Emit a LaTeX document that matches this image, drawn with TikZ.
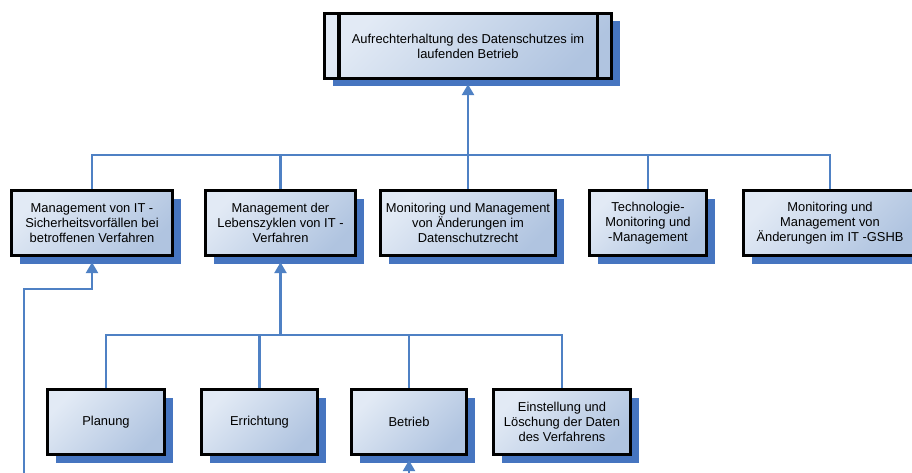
\documentclass[tikz,border=0pt]{standalone}
\usepackage{fontspec}
\setmainfont{Liberation Sans}
\usetikzlibrary{positioning,shadows,arrows.meta}
\definecolor{lineblue}{HTML}{4F81C4}
\definecolor{shadowblue}{HTML}{4675C0}
\definecolor{boxlight}{HTML}{E2EAF5}
\definecolor{boxdark}{HTML}{B0C4E0}
\tikzstyle{block} = [draw=black, line width=3.4pt, rectangle, minimum height=65pt, align=center, top color=boxlight, bottom color=boxdark, shading angle=45, drop shadow={shadow xshift=8pt, shadow yshift=-8pt, fill=shadowblue, opacity=1}, font=\fontsize{12.9}{14.8}\selectfont, inner sep=1pt]
\tikzstyle{line} = [draw=lineblue, line width=2.6pt]
\tikzstyle{input} = [coordinate]
\begin{document}
\begin{tikzpicture}[x=1pt, y=1pt, >={Triangle[width=12pt,length=11pt]}]
\useasboundingbox (0,0) rectangle (912,-473);

\node [block, minimum width=287pt] (top) at (468,-46) {Aufrechterhaltung des Datenschutzes im\\laufenden Betrieb};
\draw [line width=3.4pt, shorten <=1.7pt, shorten >=1.7pt] ([xshift=16pt]top.north west) -- ([xshift=16pt]top.south west);
\draw [line width=3.4pt, shorten <=1.7pt, shorten >=1.7pt] ([xshift=-16pt]top.north east) -- ([xshift=-16pt]top.south east);

\node [block, below of=top, node distance=177pt, minimum width=175pt] (monrecht) {Monitoring und Management\\von Änderungen im\\Datenschutzrecht};
\node [block, left of=monrecht, node distance=187.5pt, minimum width=150pt] (lebenszyklen) {Management der\\Lebenszyklen von IT -\\Verfahren};
\node [block, left of=lebenszyklen, node distance=188.5pt, minimum width=161pt] (vorfaelle) {Management von IT -\\Sicherheitsvorfällen bei\\betroffenen Verfahren};
\node [block, right of=monrecht, node distance=180pt, minimum width=117pt] (technologie) {Technologie-\\Monitoring und\\-Management};
\node [block, right of=technologie, node distance=182pt, minimum width=173pt] (gshb) {Monitoring und\\Management von\\Änderungen im IT -GSHB};

\node [block, below of=lebenszyklen, xshift=-21pt, node distance=199pt, minimum width=116pt] (errichtung) {Errichtung};
\node [block, left of=errichtung, node distance=153.5pt, minimum width=117pt] (planung) {Planung};
\node [block, right of=errichtung, node distance=149.5pt, minimum width=115pt] (betrieb) {Betrieb};
\node [block, right of=betrieb, node distance=153pt, minimum width=137pt] (einstellung) {Einstellung und\\Löschung der Daten\\des Verfahrens};

\node [input, above of=monrecht, node distance=68pt] (bus) {};
\node [input, below of=lebenszyklen, node distance=112pt] (bus2) {};
\node [input, below of=vorfaelle, node distance=66pt] (bend) {};
\node [input, below of=planung, xshift=-82pt, node distance=53pt] (extin) {};
\node [input, below of=betrieb, node distance=53pt] (betriebin) {};

\draw [line] (vorfaelle.north) |- (bus) -| (gshb.north);
\draw [line] (lebenszyklen.north) -- (lebenszyklen.north |- bus);
\draw [line] (technologie.north) -- (technologie.north |- bus);
\draw [line] (monrecht.north) -- (bus);
\draw [line, ->, shorten >=4pt] (bus) -- (top.south);

\draw [line] (planung.north) |- (bus2) -| (einstellung.north);
\draw [line] (errichtung.north) -- (errichtung.north |- bus2);
\draw [line] (betrieb.north) -- (betrieb.north |- bus2);
\draw [line, ->, shorten >=5pt] (bus2) -- (lebenszyklen.south);

\draw [line, ->, shorten >=5pt] (extin) |- (bend) -- (vorfaelle.south);
\draw [line, ->, shorten >=4pt] (betriebin) -- (betrieb.south);

\end{tikzpicture}
\end{document}
